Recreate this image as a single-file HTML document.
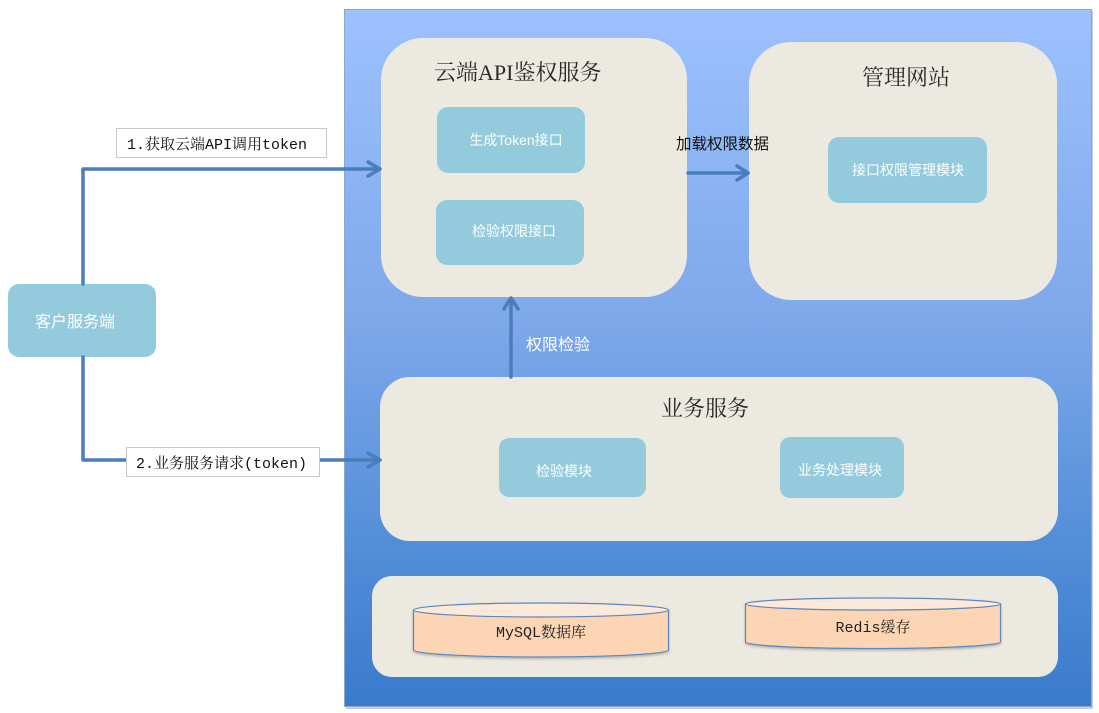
<!DOCTYPE html>
<html>
<head>
<meta charset="utf-8">
<style>
  html,body{margin:0;padding:0;background:#ffffff;}
  svg{display:block;}
  .title{font-family:"Liberation Serif","Noto Serif CJK SC",serif;font-size:22px;fill:#2a2a2a;}
  .box{font-family:"Liberation Sans","Noto Sans CJK SC",sans-serif;font-size:14px;fill:#ffffff;}
  .lbl{font-family:"Liberation Mono","Noto Serif CJK SC",monospace;font-size:15px;fill:#111;}
  .cyl{font-family:"Liberation Mono","Noto Serif CJK SC",monospace;font-size:15px;fill:#222;}
</style>
</head>
<body>
<svg width="1099" height="713" viewBox="0 0 1099 713" xmlns="http://www.w3.org/2000/svg">
  <defs>
    <linearGradient id="bg" x1="0" y1="0" x2="0" y2="1">
      <stop offset="0" stop-color="#9dc1fe"/>
      <stop offset="0.45" stop-color="#7da8ea"/>
      <stop offset="0.8" stop-color="#4f8bd6"/>
      <stop offset="1" stop-color="#3b7bcc"/>
    </linearGradient>
    <filter id="sh" x="-5%" y="-5%" width="110%" height="115%">
      <feDropShadow dx="0" dy="1.5" stdDeviation="1.2" flood-color="#000" flood-opacity="0.25"/>
    </filter>
  </defs>

  <!-- outer container -->
  <rect x="346" y="11" width="747" height="698" fill="#9a9a9a" opacity="0.5"/>
  <rect x="344.5" y="9.5" width="747" height="697" fill="url(#bg)" stroke="#8fa6c4" stroke-width="1"/>

  <!-- 云端API鉴权服务 panel -->
  <rect x="381" y="38" width="306" height="259" rx="42" fill="#eceae0"/>
  <text class="title" x="434" y="80">云端API鉴权服务</text>
  <rect x="437" y="107" width="148" height="66" rx="11" fill="#93cbdd"/>
  <text class="box" x="516" y="145" text-anchor="middle">生成Token接口</text>
  <rect x="436" y="200" width="148" height="65" rx="11" fill="#93cbdd"/>
  <text class="box" x="514" y="236" text-anchor="middle">检验权限接口</text>

  <!-- 管理网站 panel -->
  <rect x="749" y="42" width="308" height="258" rx="42" fill="#eceae0"/>
  <text class="title" x="906" y="85" text-anchor="middle">管理网站</text>
  <rect x="828" y="137" width="159" height="66" rx="11" fill="#93cbdd"/>
  <text class="box" x="908" y="175" text-anchor="middle">接口权限管理模块</text>

  <!-- 加载权限数据 arrow -->
  <text x="676" y="149" font-family="Liberation Sans, Noto Sans CJK SC, sans-serif" font-size="15.5" fill="#111">加载权限数据</text>
  <g stroke="#4a7dbb" stroke-width="3.5" fill="none" stroke-linecap="round" stroke-linejoin="round">
    <line x1="688" y1="173" x2="748" y2="173"/>
    <polyline points="737,166 748,173 737,180"/>
  </g>

  <!-- 业务服务 panel -->
  <rect x="380" y="377" width="678" height="164" rx="30" fill="#eceae0"/>
  <text class="title" x="705" y="416" text-anchor="middle">业务服务</text>
  <rect x="499" y="438" width="147" height="59" rx="10" fill="#93cbdd"/>
  <text class="box" x="564" y="476" text-anchor="middle">检验模块</text>
  <rect x="780" y="437" width="124" height="61" rx="10" fill="#93cbdd"/>
  <text class="box" x="840" y="475" text-anchor="middle">业务处理模块</text>

  <!-- 权限检验 up arrow -->
  <g stroke="#4a7dbb" stroke-width="3.5" fill="none" stroke-linecap="round" stroke-linejoin="round">
    <line x1="511" y1="377" x2="511" y2="299"/>
    <polyline points="504,309 511,298 518,309"/>
  </g>
  <text x="526" y="350" font-family="Liberation Sans, Noto Sans CJK SC, sans-serif" font-size="16" fill="#ffffff">权限检验</text>

  <!-- bottom storage panel -->
  <rect x="372" y="576" width="686" height="101" rx="20" fill="#eceae0"/>

  <!-- MySQL cylinder -->
  <g filter="url(#sh)">
    <path d="M413.5,610 L413.5,650 A127.5,7 0 0 0 668.5,650 L668.5,610 Z" fill="#fcd5b4" stroke="#5b86c0" stroke-width="1.2"/>
    <ellipse cx="541" cy="610" rx="127.5" ry="7" fill="#fde9d9" stroke="#5b86c0" stroke-width="1.2"/>
  </g>
  <text class="cyl" x="541" y="637" text-anchor="middle">MySQL数据库</text>

  <!-- Redis cylinder -->
  <g filter="url(#sh)">
    <path d="M745.5,604 L745.5,642 A127.5,6.5 0 0 0 1000.5,642 L1000.5,604 Z" fill="#fcd5b4" stroke="#5b86c0" stroke-width="1.2"/>
    <ellipse cx="873" cy="604" rx="127.5" ry="6" fill="#fde9d9" stroke="#5b86c0" stroke-width="1.2"/>
  </g>
  <text class="cyl" x="873" y="632" text-anchor="middle">Redis缓存</text>

  <!-- client box -->
  <rect x="8" y="284" width="148" height="73" rx="11" fill="#93cbdd"/>
  <text x="75" y="327" text-anchor="middle" font-family="Liberation Sans, Noto Sans CJK SC, sans-serif" font-size="16" fill="#ffffff">客户服务端</text>

  <!-- connectors from client -->
  <g stroke="#4a7dbb" stroke-width="3.5" fill="none" stroke-linecap="round" stroke-linejoin="round">
    <polyline points="83,284 83,169 379,169"/>
    <polyline points="368,162 380,169 368,176"/>
    <polyline points="83,357 83,460 379,460"/>
    <polyline points="368,453 380,460 368,467"/>
  </g>

  <!-- label boxes -->
  <rect x="116.5" y="128.5" width="210" height="29" fill="#ffffff" stroke="#c8c8c8" stroke-width="1"/>
  <text class="lbl" x="127" y="149">1.获取云端API调用token</text>
  <rect x="126.5" y="447.5" width="193" height="29" fill="#ffffff" stroke="#c8c8c8" stroke-width="1"/>
  <text class="lbl" x="136" y="468">2.业务服务请求(token)</text>
</svg>
</body>
</html>
